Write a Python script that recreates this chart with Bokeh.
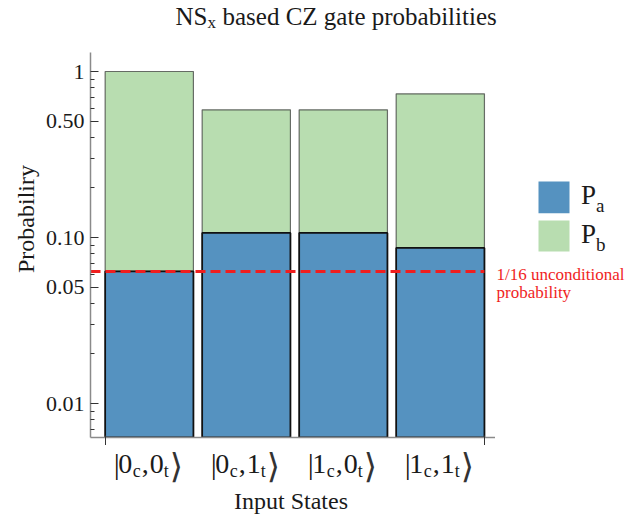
import math
from bokeh.plotting import figure
from bokeh.layouts import column, row
from bokeh.models import Range1d, FixedTicker, ColumnDataSource
from bokeh.core.properties import value
from bokeh.embed import file_html
from bokeh.resources import INLINE

# ---------------- data ----------------
control_states = ["0", "0", "1", "1"]
target_states = ["0", "1", "0", "1"]
p_a = [0.0625, 0.1065, 0.1065, 0.0865]
p_b = [0.9375, 0.4815, 0.4815, 0.6475]
unconditional = 1 / 16
y_ticks = [0.01, 0.05, 0.1, 0.5, 1]
y_tick_labels = ["0.01", "0.05", "0.10", "0.50", "1"]
y_minor_ticks = [0.007, 0.008, 0.009, 0.02, 0.03, 0.04, 0.06, 0.07, 0.08, 0.09,
                 0.2, 0.3, 0.4, 0.6, 0.7, 0.8, 0.9]
title_parts = ["NS", "x", "based CZ gate probabilities"]
legend_parts = [("P", "a"), ("P", "b")]
y_label = "Probabiliry"
x_label = "Input States"
note_lines = ["1/16 unconditional", "probability"]

# ---------------- style / layout ----------------
FONT = "Liberation Serif"
BLUE = "#5592c0"
GREEN = "#b8ddb0"
RED = "#f01e1e"
TXT = "#1a1a1a"
BAR_W = 0.91
PAGE_W = 639
TOP_H = 52
FRAME_W = 405
FRAME_H = 385
MAIN_BB = 8          # main figure bottom border (x-axis ticks)
MID_H = FRAME_H + MAIN_BB
BOT_H = 519 - TOP_H - MID_H
LEFT_W = 40
MAIN_BL = 50
MAIN_W = MAIN_BL + FRAME_W
RIGHT_W = PAGE_W - LEFT_W - MAIN_W
MID_K = 0.3375      # em-box middle above the alphabetic baseline (Liberation Serif)

xs = list(range(len(p_a)))
totals = [a + b for a, b in zip(p_a, p_b)]
X0, X1 = -0.606, 3.569
Y0, Y1 = 0.00624, 1.302


def strip(w, h, xr, yr, bottom_border=0):
    f = figure(width=w, height=h, x_range=xr, y_range=yr, output_backend="svg",
               toolbar_location=None, x_axis_location=None, y_axis_location=None,
               title=None, min_border_left=0, min_border_right=0,
               min_border_top=0, min_border_bottom=bottom_border)
    f.outline_line_color = None
    f.xgrid.visible = False
    f.ygrid.visible = False
    f.background_fill_color = "white"
    f.border_fill_color = "white"
    return f


def txt(f, x, base, s, size, color=TXT, font=FONT, align="left", x_offset=0):
    # base: alphabetic baseline in page pixels (y grows downward)
    f.text(x=[x], y=[-(base - MID_K * size)], text=[s], text_font=value(font),
           text_font_size=value(f"{size}px"), text_color=color,
           text_align=align, text_baseline="middle", x_offset=x_offset)


# ---------------- main plot ----------------
p = figure(width=MAIN_W, height=MID_H,
           x_range=Range1d(X0, X1), y_range=Range1d(Y0, Y1),
           y_axis_type="log", output_backend="svg", toolbar_location=None,
           title=None, min_border_left=MAIN_BL, min_border_right=0,
           min_border_top=0, min_border_bottom=MAIN_BB)
p.outline_line_color = None
p.xgrid.visible = False
p.ygrid.visible = False
p.background_fill_color = "white"
p.border_fill_color = "white"

src = ColumnDataSource(dict(x=xs, pa=p_a, total=totals))
rb = p.vbar(x="x", width=BAR_W, bottom="pa", top="total", source=src,
            fill_color=GREEN, line_color="#333333", line_alpha=0.7, line_width=1.2)
ra = p.vbar(x="x", width=BAR_W, bottom=Y0, top="pa", source=src,
            fill_color=BLUE, line_color="#111111", line_width=1.8)

p.line(x=[X0, xs[-1] + BAR_W / 2], y=[unconditional, unconditional],
       line_color=RED, line_width=3, line_dash="10 5")

ya = p.yaxis[0]
ya.ticker = FixedTicker(ticks=y_ticks, minor_ticks=y_minor_ticks)
ya.major_label_overrides = {t: l for t, l in zip(y_ticks, y_tick_labels)}
ya.axis_line_color = "#8a8a8a"
ya.axis_line_width = 1.5
ya.major_tick_in = 8
ya.major_tick_out = 0
ya.minor_tick_in = 4
ya.minor_tick_out = 0
ya.major_tick_line_color = "#333333"
ya.minor_tick_line_color = "#333333"
ya.major_tick_line_width = 1.2
ya.minor_tick_line_width = 1.0
ya.major_label_text_font = FONT
ya.major_label_text_font_size = "22px"
ya.major_label_text_color = TXT
ya.major_label_standoff = 6

edges = [xs[0] - BAR_W / 2, xs[-1] + BAR_W / 2]
xa = p.xaxis[0]
xa.ticker = FixedTicker(ticks=edges, minor_ticks=[])
xa.major_label_overrides = {e: "" for e in edges}
xa.major_label_text_font_size = "0px"
xa.major_label_standoff = 0
xa.axis_line_color = "#8a8a8a"
xa.axis_line_width = 1.5
xa.major_tick_in = 2
xa.major_tick_out = 8
xa.major_tick_line_color = "#333333"

# ---------------- title strip (page pixel coordinates) ----------------
top = strip(PAGE_W, TOP_H, Range1d(0, PAGE_W), Range1d(-TOP_H, 0))
txt(top, 175, 24, title_parts[0], 25)
txt(top, 207, 28, title_parts[1], 17)
txt(top, 222, 24, title_parts[2], 25)

# ---------------- y-label strip ----------------
frame_top, frame_bot = TOP_H, TOP_H + FRAME_H
left = strip(LEFT_W, MID_H, Range1d(0, LEFT_W), Range1d(-frame_bot, -frame_top),
             bottom_border=MAIN_BB)
left.text(x=[25], y=[-218.5], text=[y_label], text_font=value(FONT),
          text_font_size=value("24px"), text_color=TXT, text_align="center",
          text_baseline="middle", angle=math.pi / 2)

# ---------------- right strip: legend + note ----------------
rx0 = LEFT_W + MAIN_W
right = strip(RIGHT_W, MID_H, Range1d(rx0, PAGE_W), Range1d(-frame_bot, -frame_top),
              bottom_border=MAIN_BB)
right.quad(left=[538, 538], right=[569, 569], top=[-181, -220], bottom=[-212.7, -251],
           fill_color=[BLUE, GREEN], line_color=None)
txt(right, 580.5, 204, legend_parts[0][0], 27)
txt(right, 595.5, 211.7, legend_parts[0][1], 19)
txt(right, 580.5, 243, legend_parts[1][0], 27)
txt(right, 595.5, 250, legend_parts[1][1], 19)
txt(right, 496, 280, note_lines[0], 17, color=RED)
txt(right, 496, 298, note_lines[1], 17, color=RED)

# ---------------- bottom strip: kets + x label (shares the bar x scale) ----------------
frame_left = LEFT_W + MAIN_BL
upp = (X1 - X0) / FRAME_W
bx0 = X0 - frame_left * upp
bx1 = X0 + (PAGE_W - frame_left) * upp
ytop = TOP_H + MID_H
bot = strip(PAGE_W, BOT_H, Range1d(bx0, bx1), Range1d(-(ytop + BOT_H), -ytop))
for x, c, t in zip(xs, control_states, target_states):
    txt(bot, x, 473, "|", 30, x_offset=-35.5)
    txt(bot, x, 473, c, 28, x_offset=-31)
    txt(bot, x, 477, "c", 18, x_offset=-16.5)
    txt(bot, x, 473, ",", 28, x_offset=-7.5)
    txt(bot, x, 473, t, 28, x_offset=0.5)
    txt(bot, x, 477, "t", 18, x_offset=14.5)
    txt(bot, x, 477, "\u27e9", 34, font="DejaVu Sans", color="#333333", x_offset=20.5)
txt(bot, (X0 + X1) / 2, 508.3, x_label, 24, align="center", x_offset=-2)

layout = column(top, row(left, p, right), bot)
open("out.html", "w").write(file_html(layout, INLINE))
